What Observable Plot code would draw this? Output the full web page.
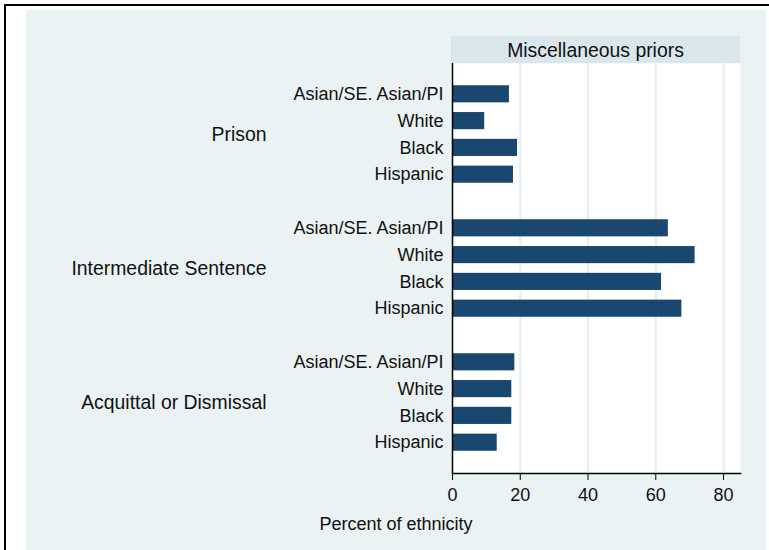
<!DOCTYPE html>
<html>
<head>
<meta charset="utf-8">
<script src="https://cdn.jsdelivr.net/npm/d3@7"></script>
<script src="https://cdn.jsdelivr.net/npm/@observablehq/plot@0.6"></script>
<style>
  html, body { margin: 0; padding: 0; background: #ffffff; }
  #wrap { position: relative; width: 769px; height: 550px; overflow: hidden; background: #ffffff; font-family: "Liberation Sans", Arial, sans-serif; }
  .edge { position: absolute; background: #000000; }
  #graphbg { position: absolute; left: 26px; top: 10px; width: 740px; height: 540px; background: #eaf2f3; }
  #chart { position: absolute; left: 0; top: 0; }
  #strip { position: absolute; left: 451px; top: 36px; width: 289px; height: 27px; background: #d9e6eb;
           font-size: 19.4px; line-height: 28px; text-align: center; color: #111; }
  #xtitle { position: absolute; left: 26px; width: 740px; top: 513px; font-size: 18px; line-height: 22px; text-align: center; color: #111; }
</style>
</head>
<body>
<div id="wrap">
  <div id="graphbg"></div>
  <div class="edge" style="left:4px; top:4px; width:765px; height:2px;"></div>
  <div class="edge" style="left:4px; top:4px; width:2px; height:546px;"></div>
  <div id="chart"></div>
  <div id="strip"></div>
  <div id="xtitle"></div>
</div>
<script>
// ---- Data ----
const panelTitle = "Miscellaneous priors";
const xTitle = "Percent of ethnicity";
const groups = ["Prison", "Intermediate Sentence", "Acquittal or Dismissal"];
const ethnicities = ["Asian/SE. Asian/PI", "White", "Black", "Hispanic"];
const prison = [16.8, 9.5, 19.2, 18.0];
const intermediate = [63.7, 71.6, 61.7, 67.7];
const acquittal = [18.4, 17.5, 17.5, 13.2];
const xTicks = [0, 20, 40, 60, 80];
const xMax = 85;

// ---- Build table ----
const seriesByGroup = [prison, intermediate, acquittal];
const rows = groups.flatMap((g, gi) =>
  ethnicities.map((e, ei) => ({group: g, ethnicity: e, key: g + "|" + e, value: seriesByGroup[gi][ei]}))
);
const realKeys = rows.map(d => d.key);
const yDomain = groups.flatMap((g, gi) => [
  ...(gi ? ["gap" + gi] : []),
  ...ethnicities.map(e => g + "|" + e)
]);

document.getElementById("strip").textContent = panelTitle;
document.getElementById("xtitle").textContent = xTitle;

const font = "Liberation Sans, Arial, sans-serif";
const chart = Plot.plot({
  width: 769,
  height: 550,
  marginLeft: 452,
  marginRight: 29,
  marginTop: 63,
  marginBottom: 77,
  style: {background: "transparent", fontFamily: font, fontSize: "18px", color: "#111"},
  x: {domain: [0, xMax]},
  y: {type: "band", domain: yDomain, paddingInner: 0.361, paddingOuter: 0.83, round: false},
  marks: [
    Plot.frame({fill: "white", stroke: null}),
    Plot.gridX({ticks: xTicks.filter(t => t > 0), stroke: "#e4edf0", strokeOpacity: 1, strokeWidth: 2}),
    Plot.barX(rows, {x: "value", y: "key", fill: "#1a476f"}),
    Plot.ruleX([0], {stroke: "#000", strokeWidth: 1.5}),
    Plot.frame({anchor: "bottom", stroke: "#000", strokeWidth: 1.5}),
    Plot.axisX({ticks: xTicks, tickSize: 7, tickPadding: 8, label: null, fontSize: 18, stroke: "#000", fill: "#111"}),
    Plot.axisY({ticks: realKeys, tickSize: 0, tickPadding: 9, label: null, fontSize: 18, fill: "#111",
                tickFormat: k => k.split("|")[1]}),
    Plot.text(groups, {y: g => g + "|White", text: d => d, frameAnchor: "left", dx: -186, dy: 14,
                       textAnchor: "end", fontSize: 19.4, fill: "#111"})
  ]
});
document.getElementById("chart").appendChild(chart);
</script>
</body>
</html>
